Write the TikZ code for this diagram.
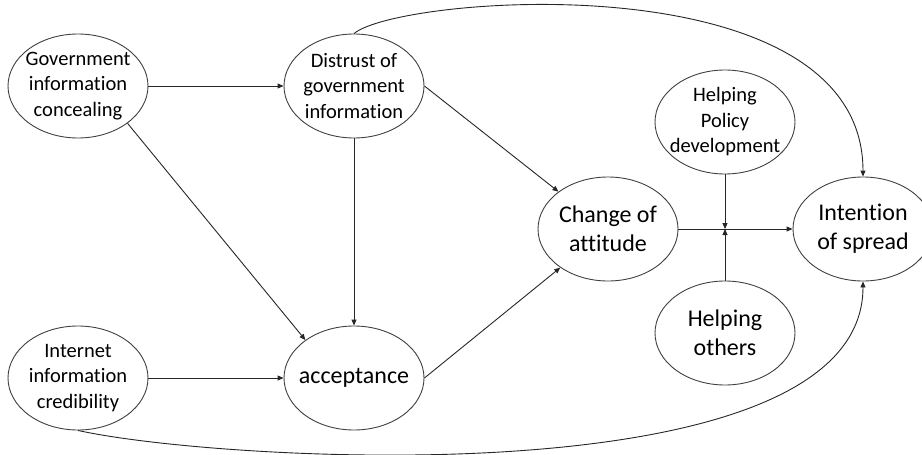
\documentclass[tikz,border=0pt]{standalone}
\usepackage{fontspec}
\setmainfont{Carlito}[Ligatures={NoCommon,NoContextual}]
\usetikzlibrary{arrows.meta,shapes.geometric}
\tikzset{
  var/.style={ellipse,draw=black!75,line width=0.9pt,minimum width=140pt,
    minimum height=104pt,inner sep=-20pt,align=center,
    font=\fontsize{20.5}{25.5}\selectfont},
  bigvar/.style={var,font=\fontsize{24}{29}\selectfont},
  link/.style={draw=black!85,line width=0.9pt,-{Triangle[length=6pt,width=5pt]}}
}
\begin{document}
\begin{tikzpicture}[x=1pt,y=-1pt]
  \useasboundingbox (0,0) rectangle (922,455);
  \node[var] (gov) at (78,86) {Government\\information\\concealing};
  \node[var] (dis) at (354,86) {Distrust of\\government\\information};
  \node[var] (inet) at (78,378) {Internet\\information\\credibility};
  \node[bigvar] (acc) at (354,378) {acceptance};
  \node[bigvar] (chg) at (608,229) {Change of\\attitude};
  \node[var] (hpd) at (725,122) {Helping\\Policy\\development};
  \node[bigvar] (ho) at (725,333) {Helping\\others};
  \node[bigvar] (int) at (863,229) {Intention\\of spread};
  \coordinate (mod) at (725,229);
  \draw[link] (gov) -- (dis);
  \draw[link] (inet) -- (acc);
  \draw[link] (gov.-37) -- (acc.142);
  \draw[link] (dis) -- (acc);
  \draw[link] (dis.east) -- (chg.143);
  \draw[link] (acc.east) -- (chg.219);
  \draw[link] (chg) -- (int);
  \draw[link] (hpd) -- (mod);
  \draw[link] (ho) -- (mod);
  \draw[link] (dis.north) .. controls (400,-5) and (863,-40) .. (int.north);
  \draw[link] (inet.south) .. controls (220,462) and (863,500) .. (int.south);
\end{tikzpicture}
\end{document}
